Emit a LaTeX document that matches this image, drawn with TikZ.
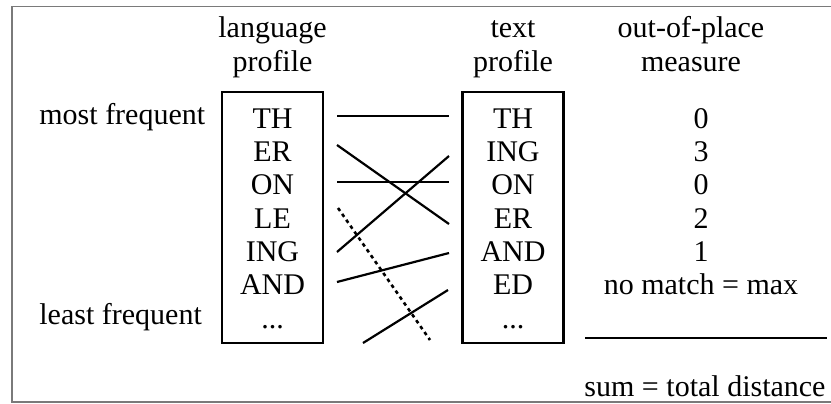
\documentclass[tikz,border=0pt]{standalone}
\usepackage{fontspec}
\setmainfont{Liberation Serif}
\begin{document}
\begin{tikzpicture}[x=0.5pt,y=-0.5pt,
  txt/.style={inner sep=0pt,anchor=base,font=\fontsize{15}{16.5}\selectfont},
  lefttxt/.style={txt,anchor=base west},
  listbox/.style={draw,line width=1.1pt,minimum width=50.5pt,minimum height=125.5pt,inner sep=0pt},
  link/.style={line width=1.1pt},
  nolink/.style={line width=1.3pt,dash pattern=on 1.8pt off 1.8pt},
  frame/.style={draw=black!52,line width=0.8pt}]
\useasboundingbox (0,0) rectangle (831,403);
% outer frame (right edge lies outside the picture)
\draw[frame] (840,6.5) -- (12,6.5) -- (12,402) -- (840,402);
% headers
\node[txt] (h1a) at (272.5,37.5) {language};
\node[txt] (h1b) at (272.5,71) {profile};
\node[txt] (h2a) at (513,37.5) {text};
\node[txt] (h2b) at (513,71) {profile};
\node[txt] (h3a) at (691,37.5) {out-of-place};
\node[txt] (h3b) at (691,71) {measure};
% side labels
\node[lefttxt] (most) at (39,124) {most frequent};
\node[lefttxt] (least) at (39,324) {least frequent};
% boxes
\node[listbox] (lbox) at (272.5,217.5) {};
\node[listbox] (rbox) at (513,217.5) {};
% left profile
\node[txt] (l1) at (272.5,128) {TH};
\node[txt] (l2) at (272.5,161.3) {ER};
\node[txt] (l3) at (272.5,194.7) {ON};
\node[txt] (l4) at (272.5,228) {LE};
\node[txt] (l5) at (272.5,261.3) {ING};
\node[txt] (l6) at (272.5,294.7) {AND};
\node[txt] (l7) at (272.5,328) {...};
% right profile
\node[txt] (r1) at (513,128) {TH};
\node[txt] (r2) at (513,161.3) {ING};
\node[txt] (r3) at (513,194.7) {ON};
\node[txt] (r4) at (513,228) {ER};
\node[txt] (r5) at (513,261.3) {AND};
\node[txt] (r6) at (513,294.7) {ED};
\node[txt] (r7) at (513,328) {...};
% measures
\node[txt] (m1) at (701,128) {0};
\node[txt] (m2) at (701,161.3) {3};
\node[txt] (m3) at (701,194.7) {0};
\node[txt] (m4) at (701,228) {2};
\node[txt] (m5) at (701,261.3) {1};
\node[txt] (m6) at (701,294.7) {no match = max};
\node[txt] (sum) at (705,396) {sum = total distance};
\coordinate (sa) at (585,338);
\coordinate (sb) at (827,338);
\draw[line width=1.1pt] (sa) -- (sb);
% connector end points
\coordinate (aTH) at (337,116);   \coordinate (bTH) at (449,116);
\coordinate (aER) at (337,145);   \coordinate (bER) at (449,224);
\coordinate (aON) at (337,182);   \coordinate (bON) at (449,182);
\coordinate (aING) at (337,252);  \coordinate (bING) at (449,156);
\coordinate (aAND) at (337,282);  \coordinate (bAND) at (449,253);
\coordinate (aED) at (363,343);   \coordinate (bED) at (448,290);
\coordinate (aLE) at (338,208);   \coordinate (bLE) at (430,340);
\draw[link] (aTH) -- (bTH);
\draw[link] (aER) -- (bER);
\draw[link] (aON) -- (bON);
\draw[link] (aING) -- (bING);
\draw[link] (aAND) -- (bAND);
\draw[link] (aED) -- (bED);
\draw[nolink] (aLE) -- (bLE);
\end{tikzpicture}
\end{document}
